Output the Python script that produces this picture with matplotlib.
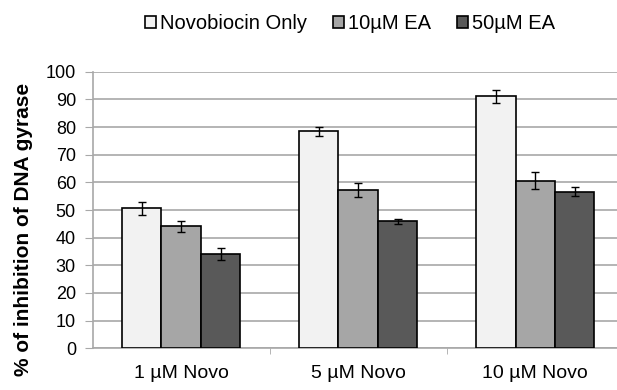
import matplotlib
matplotlib.use('Agg')
import matplotlib.pyplot as plt
import numpy as np

plt.rcParams['font.family'] = ['Liberation Sans', 'DejaVu Sans']

groups = ["1 \u00b5M Novo", "5 \u00b5M Novo", "10 \u00b5M Novo"]
series = ["Novobiocin Only", "10\u00b5M EA", "50\u00b5M EA"]
novo_only = [50.6, 78.4, 91.1]
ea_10 = [44.2, 57.2, 60.6]
ea_50 = [34.1, 46.0, 56.6]
err_novo = [2.3, 1.6, 2.3]
err_10 = [2.0, 2.6, 3.0]
err_50 = [2.0, 0.9, 1.6]
colors = ["#f2f2f2", "#a6a6a6", "#595959"]

fig = plt.figure(figsize=(6.17, 3.9), dpi=100)
ax = fig.add_axes([0.15, 0.107, 0.861, 0.709])

x = np.arange(len(groups))
w = 0.223
vals = [novo_only, ea_10, ea_50]
errs = [err_novo, err_10, err_50]
for i in range(3):
    ax.bar(x + (i - 1) * w, vals[i], w, yerr=errs[i], color=colors[i],
           edgecolor="black", linewidth=1.2, label=series[i], zorder=3,
           error_kw=dict(ecolor="black", elinewidth=1, capsize=3, capthick=1))

ax.set_xlim(-0.5, 2.5)
ax.set_ylim(0, 100)
ax.set_yticks(range(0, 101, 10))
ax.yaxis.grid(True, color="#a8a8a8", linewidth=1.2, zorder=0)
ax.set_axisbelow(True)
ax.set_xticks(x)
ax.set_xticklabels(groups, fontsize=14)
ax.tick_params(axis='x', length=0, pad=12)
ax.set_xticks([0.5, 1.5], minor=True)
ax.tick_params(axis='x', which='minor', length=4, color="#a8a8a8")
ax.tick_params(axis='y', labelsize=13, length=6, color="#a8a8a8", pad=6)
for s in ["top", "right"]:
    ax.spines[s].set_visible(False)
for s in ["left", "bottom"]:
    ax.spines[s].set_color("#a8a8a8")
    ax.spines[s].set_linewidth(1.2)
ax.set_ylabel("% of inhibition of DNA gyrase", fontsize=15, fontweight="bold")
ax.yaxis.set_label_coords(-0.112, 0.43)

fig.legend(loc="upper center", bbox_to_anchor=(0.567, 1.01), ncol=3, frameon=False,
           fontsize=14.5, handlelength=0.55, handleheight=0.55, handletextpad=0.2,
           columnspacing=1.3)

fig.savefig("out.png", dpi=100)
